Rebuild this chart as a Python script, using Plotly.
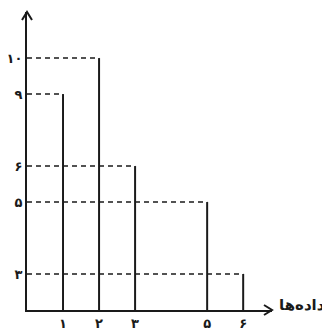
import plotly.graph_objects as go

# data
x_values = [1, 2, 3, 5, 6]
heights = [9, 10, 6, 5, 3]
x_tick_text = ["۱", "۲", "۳", "۵", "۶"]

# schematic (non-linear) vertical scale: placeholder levels keep the spacing
y_levels = ["0", "3", "4", "5", "6", "7", "9", "10"]
y_tick_vals = ["3", "5", "6", "9", "10"]
y_tick_text = ["۳", "۵", "۶", "۹", "۱۰"]

x_label = "داده‌ها"

INK = "#1a1a1a"
FONT = "DejaVu Sans"

stem_x, stem_y, dash_x, dash_y = [], [], [], []
for x, h in zip(x_values, heights):
    stem_x += [x, x, None]
    stem_y += ["0", str(h), None]
    dash_x += [0, x, None]
    dash_y += [str(h), str(h), None]

fig = go.Figure()
# invisible trace so every level exists on the category axis
fig.add_trace(go.Scatter(x=[0] * len(y_levels), y=y_levels, mode="markers",
                         marker=dict(opacity=0), hoverinfo="skip"))
fig.add_trace(go.Scatter(x=dash_x, y=dash_y, mode="lines",
                         line=dict(color=INK, width=1.6, dash="5px,4px"),
                         hoverinfo="skip"))
fig.add_trace(go.Scatter(x=stem_x, y=stem_y, mode="lines",
                         line=dict(color=INK, width=2), hoverinfo="skip"))

# the page body keeps its 8px margin, so the figure is 8px smaller
fig.update_layout(
    width=322,
    height=322,
    margin=dict(l=19, r=58, t=4, b=20),
    plot_bgcolor="white",
    paper_bgcolor="white",
    showlegend=False,
    font=dict(family=FONT, color=INK, size=13),
)
fig.update_xaxes(
    range=[0, 6.8],
    automargin=False,
    showgrid=False,
    zeroline=False,
    showline=True,
    linecolor=INK,
    linewidth=2,
    tickvals=x_values,
    ticktext=x_tick_text,
    ticks="",
    ticklabelstandoff=0,
    tickfont=dict(size=13, family=FONT, weight="bold"),
)
fig.update_yaxes(
    type="category",
    categoryorder="array",
    categoryarray=y_levels,
    range=[0, 8.28],
    automargin=False,
    showgrid=False,
    zeroline=False,
    showline=True,
    linecolor=INK,
    linewidth=2,
    tickvals=y_tick_vals,
    ticktext=y_tick_text,
    ticks="",
    ticklabelstandoff=0,
    tickfont=dict(size=13, family=FONT, weight="bold"),
)

# open arrowheads at the ends of both axes
fig.add_shape(type="path", xref="paper", yref="paper",
              xsizemode="pixel", ysizemode="pixel", xanchor=0, yanchor=1,
              path="M-5,-8 L0,0 L5,-8", line=dict(color=INK, width=2))
fig.add_shape(type="path", xref="paper", yref="paper",
              xsizemode="pixel", ysizemode="pixel", xanchor=1, yanchor=0,
              path="M-8,5 L0,0 L-8,-5", line=dict(color=INK, width=2))
fig.add_annotation(xref="paper", yref="paper", x=1, y=0, xanchor="left",
                   yanchor="middle", xshift=5, yshift=5, text=x_label,
                   showarrow=False,
                   font=dict(size=15, family=FONT, color=INK, weight="bold"))

fig.write_html("out.html")
